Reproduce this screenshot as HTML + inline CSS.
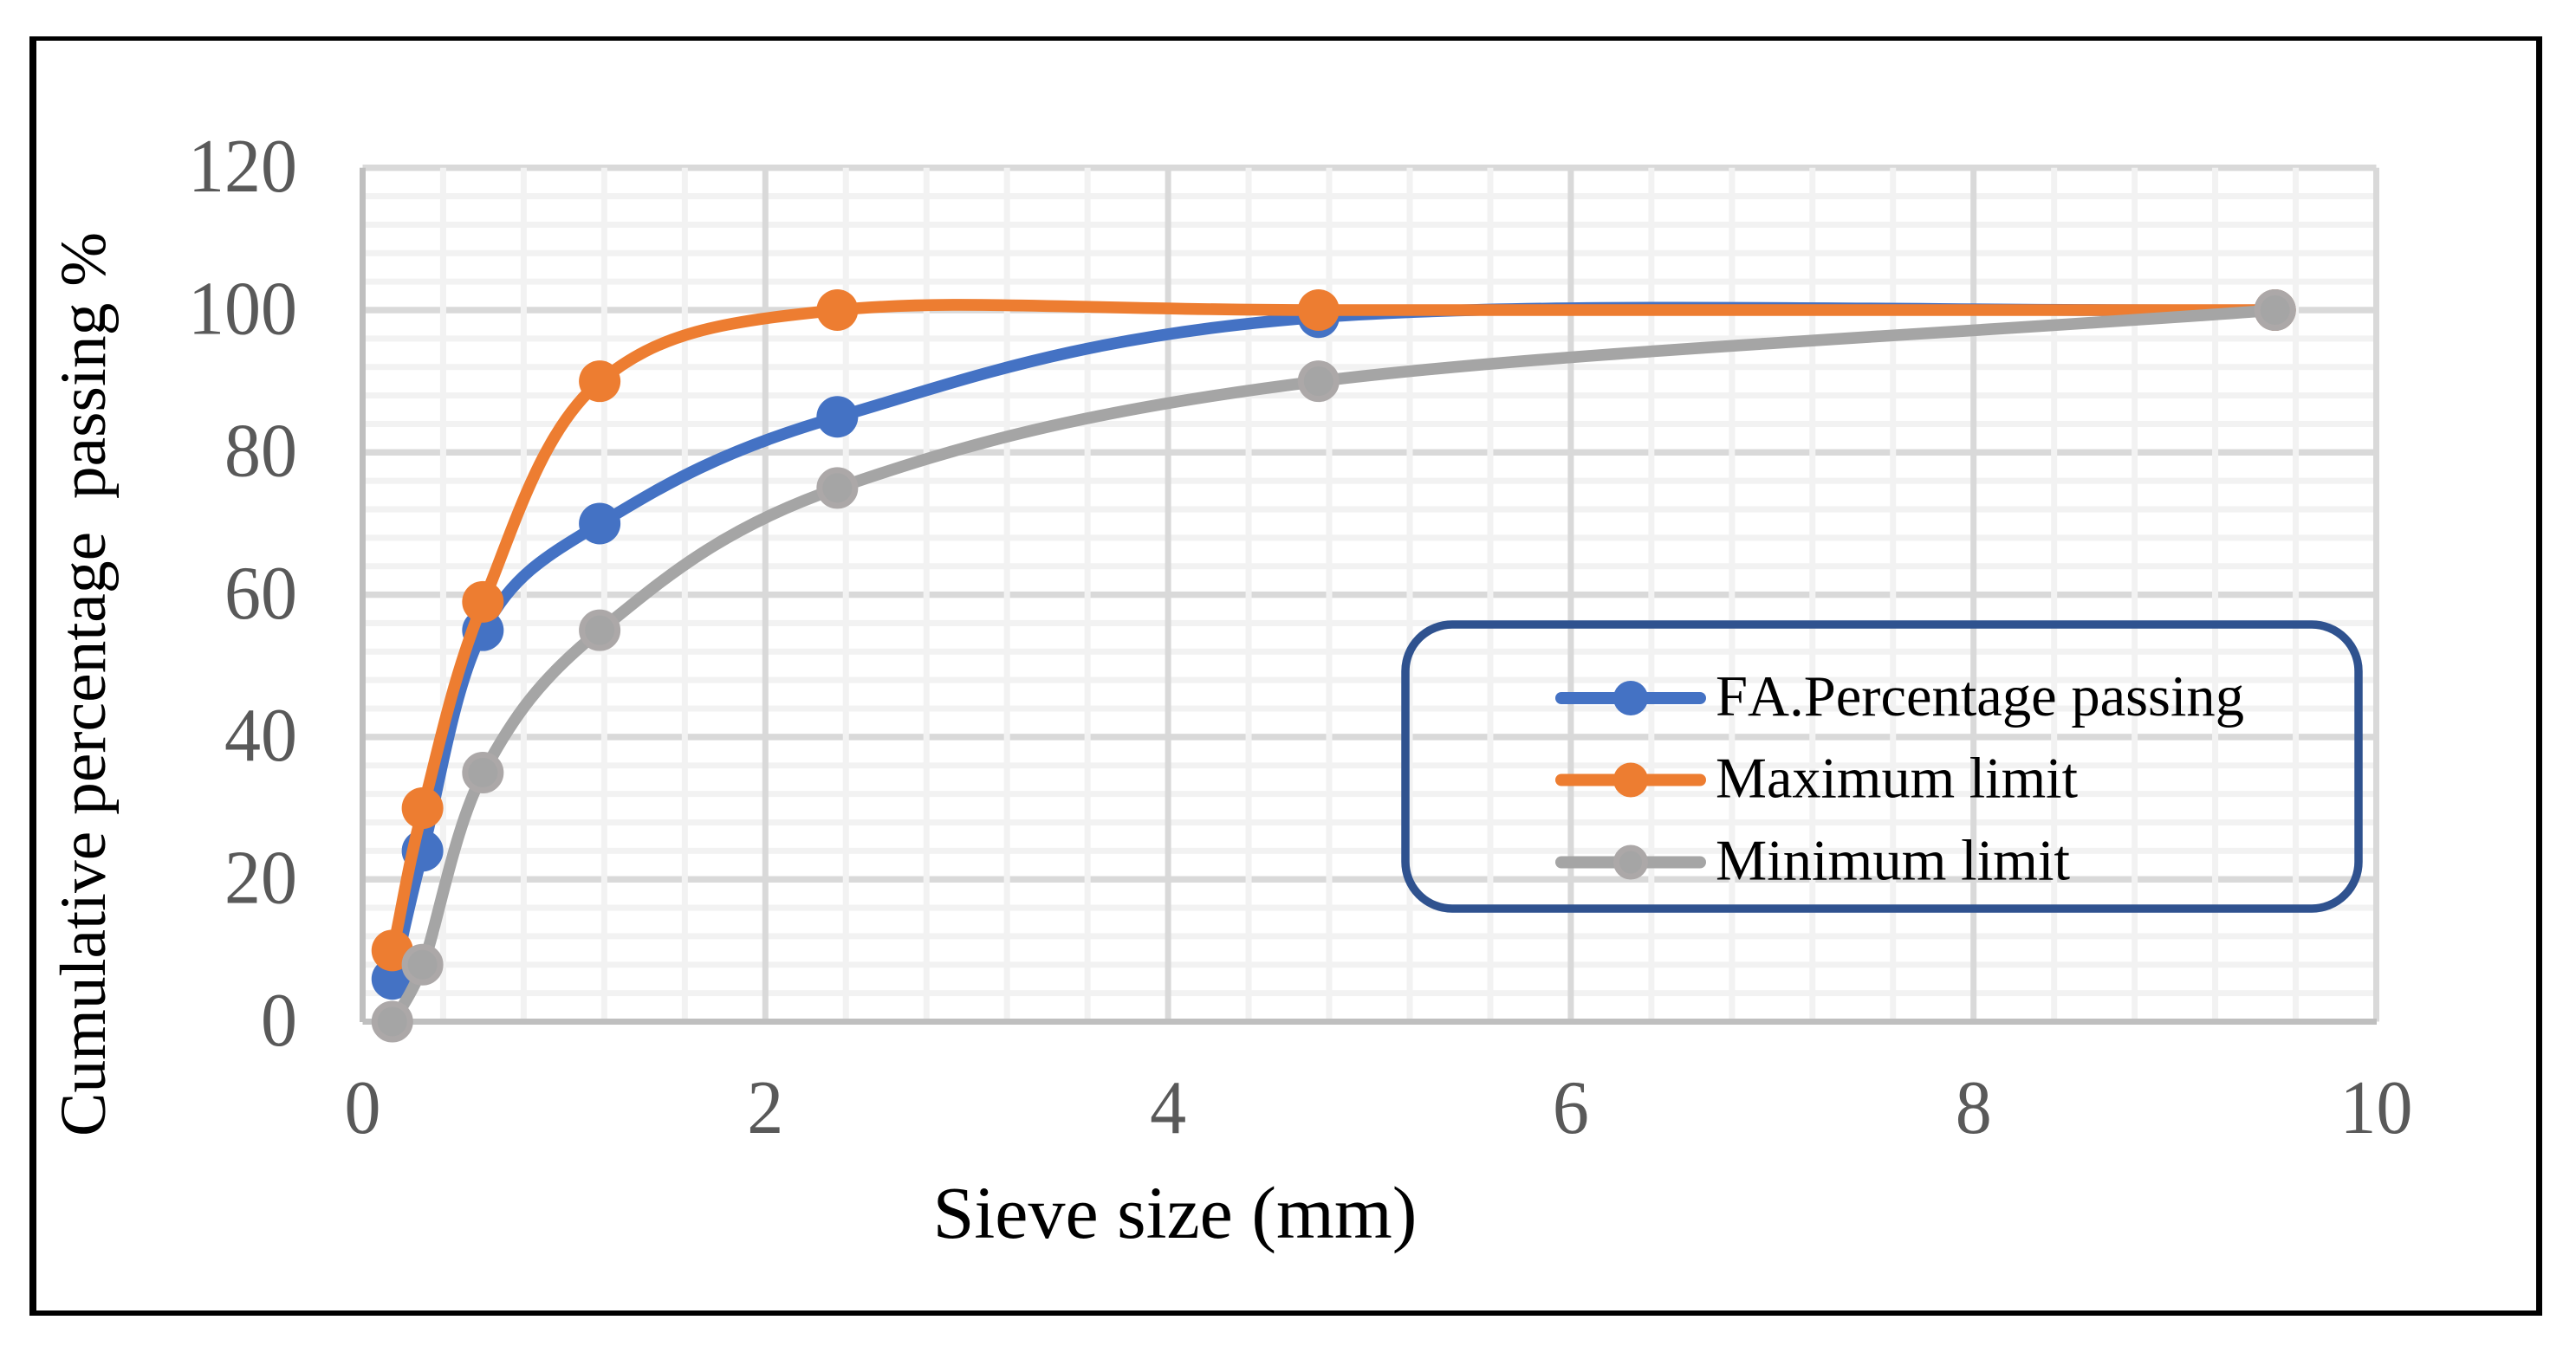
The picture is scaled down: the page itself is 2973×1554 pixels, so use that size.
<!DOCTYPE html>
<html lang="en">
<head>
<meta charset="utf-8">
<title>Sieve size chart</title>
<style>
html,body{margin:0;padding:0;background:#fff;}
svg{display:block;}
text{font-family:"Liberation Serif","Times New Roman",serif;}
</style>
</head>
<body>
<svg id="chart" xmlns="http://www.w3.org/2000/svg" width="2973" height="1554" viewBox="0 0 2973 1554">
  <rect x="0" y="0" width="2973" height="1554" fill="#ffffff"/>
  <g fill="#000000">
    <rect x="34" y="42" width="2900" height="5"/>
    <rect x="34" y="42" width="8" height="1477"/>
    <rect x="2927" y="42" width="7" height="1477"/>
    <rect x="34" y="1513" width="2900" height="6"/>
  </g>
  <g id="grid"></g>
  <g id="series"></g>
  <g id="ticks"></g>
  <text x="1356" y="1429" font-size="86" text-anchor="middle" fill="#000000">Sieve size (mm)</text>
  <text transform="translate(121 1312) rotate(-90)" font-size="75.5" fill="#000000" xml:space="preserve" style="white-space:pre">Cumulative percentage  passing %</text>
  <g>
    <rect x="1622" y="721" width="1100" height="328" rx="54" ry="54" fill="none" stroke="#2f528f" stroke-width="9.5"/>
    <g>
      <line x1="1802" y1="806" x2="1962" y2="806" stroke="#4472c4" stroke-width="14" stroke-linecap="round"/>
      <circle cx="1882" cy="806" r="20" fill="#4472c4"/>
      <text x="1980" y="826" font-size="67" fill="#000000" style="font-kerning:none" textLength="610" lengthAdjust="spacingAndGlyphs">FA.Percentage passing</text>
    </g>
    <g>
      <line x1="1802" y1="900.5" x2="1962" y2="900.5" stroke="#ed7d31" stroke-width="14" stroke-linecap="round"/>
      <circle cx="1882" cy="900.5" r="20" fill="#ed7d31"/>
      <text x="1980" y="920.5" font-size="67" fill="#000000" textLength="418" lengthAdjust="spacingAndGlyphs">Maximum limit</text>
    </g>
    <g>
      <line x1="1802" y1="995.5" x2="1962" y2="995.5" stroke="#a5a5a5" stroke-width="14" stroke-linecap="round"/>
      <circle cx="1882" cy="995.5" r="16.5" fill="#a5a5a5" stroke="#aca8a8" stroke-width="7"/>
      <text x="1980" y="1015.5" font-size="67" fill="#000000" textLength="409" lengthAdjust="spacingAndGlyphs">Minimum limit</text>
    </g>
  </g>
</svg>
<script>
var sieveSizes = [0.15, 0.3, 0.6, 1.18, 2.36, 4.75, 9.5];
var faPassing = [6, 24, 55, 70, 85, 99, 100];
var maxLimit = [10, 30, 59, 90, 100, 100, 100];
var minLimit = [0, 8, 35, 55, 75, 90, 100];
var xTickLabels = [0, 2, 4, 6, 8, 10];
var yTickLabels = [0, 20, 40, 60, 80, 100, 120];
var xMinorTicks = [0.4, 0.8, 1.2, 1.6, 2.4, 2.8, 3.2, 3.6, 4.4, 4.8, 5.2, 5.6, 6.4, 6.8, 7.2, 7.6, 8.4, 8.8, 9.2, 9.6];
var yMinorTicks = [4, 8, 12, 16, 24, 28, 32, 36, 44, 48, 52, 56, 64, 68, 72, 76, 84, 88, 92, 96, 104, 108, 112, 116];

var NS = 'http://www.w3.org/2000/svg';
var plotLeft = 418.5, plotRight = 2742.5, plotTop = 193.7, plotBottom = 1179.5;
function xScale(v) { return plotLeft + (v / 10) * (plotRight - plotLeft); }
function yScale(v) { return plotBottom - (v / 120) * (plotBottom - plotTop); }
function make(tag, attrs, parent) {
  var el = document.createElementNS(NS, tag);
  for (var k in attrs) { el.setAttribute(k, attrs[k]); }
  parent.appendChild(el);
  return el;
}
var grid = document.getElementById('grid');
var seriesLayer = document.getElementById('series');
var ticks = document.getElementById('ticks');

yTickLabels.forEach(function (v) {
  if (v === 0) { return; }
  var el = make('rect', { x: plotLeft, y: yScale(v) - 3.7, width: plotRight - plotLeft, height: 7.4, fill: '#d9d9d9' }, grid);
  
  
});
yMinorTicks.forEach(function (v) {
  var el = make('rect', { x: plotLeft, y: yScale(v) - 3.5, width: plotRight - plotLeft, height: 7, fill: '#f2f2f2' }, grid);
  
  
});
xMinorTicks.forEach(function (v) {
  var el = make('rect', { x: xScale(v) - 3.5, y: plotTop, width: 7, height: plotBottom - plotTop, fill: '#f2f2f2' }, grid);
  
  
});
xTickLabels.forEach(function (v) {
  if (v === 0) { return; }
  var el = make('rect', { x: xScale(v) - 3.5, y: plotTop, width: 7, height: plotBottom - plotTop, fill: '#d9d9d9' }, grid);
  
  
});
var yAxisLine = make('rect', { x: plotLeft - 3.5, y: plotTop, width: 7, height: plotBottom - plotTop + 0.5, fill: '#bfbfbf' }, grid);


var xAxisLine = make('rect', { x: plotLeft, y: plotBottom - 3.5, width: plotRight - plotLeft + 0.5, height: 7, fill: '#bfbfbf' }, grid);



function smoothPath(xs, ys) {
  var pts = xs.map(function (x, i) { return [xScale(x), yScale(ys[i])]; });
  var n = pts.length;
  var d = 'M' + pts[0][0].toFixed(2) + ' ' + pts[0][1].toFixed(2);
  function dist(a, b) { return Math.hypot(a[0] - b[0], a[1] - b[1]); }
  for (var i = 0; i < n - 1; i++) {
    var p0 = pts[Math.max(i - 1, 0)], p1 = pts[i], p2 = pts[i + 1], p3 = pts[Math.min(i + 2, n - 1)];
    var d02 = dist(p0, p2), d12 = dist(p1, p2), d13 = dist(p1, p3);
    var f, g;
    var a = d02 / 6 < d12 / 2, b = d13 / 6 < d12 / 2;
    if (a && b) {
      f = i === 0 ? 1 / 3 : 1 / 6;
      g = i === n - 2 ? 1 / 3 : 1 / 6;
    } else if (!a && !b) {
      f = d12 / 2 / d02;
      g = d12 / 2 / d13;
    } else if (!a) {
      f = d12 / 2 / d02;
      g = d12 / 2 / d13 * (d13 / d02);
    } else {
      f = d12 / 2 / d02 * (d02 / d13);
      g = d12 / 2 / d13;
    }
    var c1x = p1[0] + f * (p2[0] - p0[0]), c1y = p1[1] + f * (p2[1] - p0[1]);
    var c2x = p2[0] - g * (p3[0] - p1[0]), c2y = p2[1] - g * (p3[1] - p1[1]);
    d += ' C' + c1x.toFixed(2) + ' ' + c1y.toFixed(2) + ' ' + c2x.toFixed(2) + ' ' + c2y.toFixed(2) + ' ' + p2[0].toFixed(2) + ' ' + p2[1].toFixed(2);
  }
  return d;
}

function drawSeries(values, color, slug, ring) {
  var line = make('path', { d: smoothPath(sieveSizes, values), fill: 'none', stroke: color, 'stroke-width': 13.6, 'stroke-linecap': 'round' }, seriesLayer);
  
  
  values.forEach(function (v, i) {
    var attrs = ring
      ? { cx: xScale(sieveSizes[i]) - 0.6, cy: yScale(v), r: 20.5, fill: color, stroke: ring, 'stroke-width': 7 }
      : { cx: xScale(sieveSizes[i]) - 0.6, cy: yScale(v), r: 24, fill: color };
    var dot = make('circle', attrs, seriesLayer);
    
    
  });
}
drawSeries(faPassing, '#4472c4', 'fa-passing', null);
drawSeries(maxLimit, '#ed7d31', 'maximum-limit', null);
drawSeries(minLimit, '#a5a5a5', 'minimum-limit', '#aca8a8');

yTickLabels.forEach(function (v) {
  var label = String(v);
  var t = make('text', { x: 343, y: yScale(v) + 27.3, 'font-size': 88, 'text-anchor': 'end', fill: '#595959', textLength: 42 * label.length, lengthAdjust: 'spacingAndGlyphs' }, ticks);
  t.textContent = label;
  
  
});
xTickLabels.forEach(function (v) {
  var label = String(v);
  var t = make('text', { x: xScale(v), y: 1308, 'font-size': 88, 'text-anchor': 'middle', fill: '#595959', textLength: 42 * label.length, lengthAdjust: 'spacingAndGlyphs' }, ticks);
  t.textContent = label;
  
  
});
</script>
</body>
</html>
